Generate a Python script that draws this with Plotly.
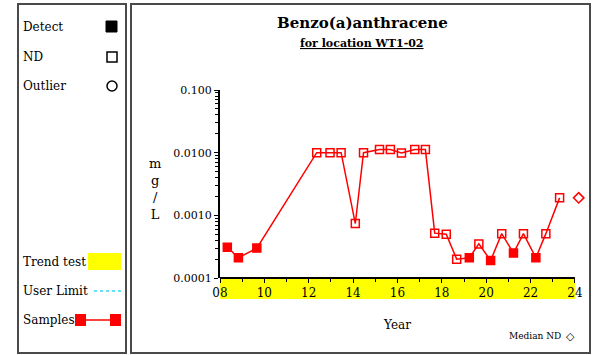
import plotly.graph_objects as go

# sample dates (decimal years), results (mg/L) and detect flags
years = [2008.33, 2008.83, 2009.66, 2012.36, 2012.96, 2013.46, 2014.10, 2014.47,
         2015.19, 2015.68, 2016.18, 2016.78, 2017.26, 2017.68, 2018.20, 2018.67,
         2019.24, 2019.67, 2020.20, 2020.70, 2021.23, 2021.68, 2022.24, 2022.69,
         2023.31]
values = [0.00031, 0.00021, 0.00030, 0.0100, 0.0100, 0.0100, 0.00074, 0.0100,
          0.0112, 0.0112, 0.0099, 0.0112, 0.0112, 0.00052, 0.00050, 0.00020,
          0.00021, 0.00035, 0.00019, 0.00051, 0.00025, 0.00051, 0.00021, 0.00051,
          0.0019]
detect = [1, 1, 1, 0, 0, 0, 0, 0,
          0, 0, 0, 0, 0, 0, 0, 0,
          1, 0, 1, 0, 1, 0, 1, 0,
          0]
median_nd_year = 2024.17
median_nd_value = 0.0019

x_start, x_end = 2008, 2024
x_ticks = list(range(2008, 2025, 2))
x_ticktext = ["%02d" % (y % 100) for y in x_ticks]
y_ticks = [0.0001, 0.001, 0.01, 0.1]
y_ticktext = ["0.0001", "0.0010", "0.0100", "0.100"]

W, H = 593, 355
L, R, T, B = 220, 7, 90, 77
pw, ph = W - L - R, H - T - B
FONT = "DejaVu Serif"


def px(x):
    return (x - L) / pw


def py(y):
    return (H - B - y) / ph


fig = go.Figure()

fig.add_trace(go.Scatter(
    x=years, y=values, mode="lines+markers",
    line=dict(color="#ff0000", width=1.5),
    marker=dict(
        symbol=["square" if d else "square-open" for d in detect],
        size=8, color="#ff0000", line=dict(color="#ff0000", width=1.5),
    ),
    showlegend=False, hoverinfo="x+y",
))
fig.add_trace(go.Scatter(
    x=[median_nd_year], y=[median_nd_value], mode="markers",
    marker=dict(symbol="diamond-open", size=8, color="#ff0000",
                line=dict(color="#ff0000", width=1.5)),
    showlegend=False, hoverinfo="x+y",
))

shapes = []
# panel frames
shapes.append(dict(type="rect", xref="paper", yref="paper",
                   x0=px(18), x1=px(126), y0=py(4), y1=py(353),
                   line=dict(color="#4a4a4a", width=2)))
shapes.append(dict(type="rect", xref="paper", yref="paper",
                   x0=px(131), x1=px(590), y0=py(4), y1=py(353),
                   line=dict(color="#4a4a4a", width=2)))
# trend test band under the x axis
shapes.append(dict(type="rect", xref="x", yref="paper", layer="below",
                   x0=x_start, x1=x_end, y0=0, y1=py(299),
                   fillcolor="#ffff00", line=dict(width=0)))
# x axis line, stopping at the last year
shapes.append(dict(type="line", xref="x", yref="paper", layer="above",
                   x0=x_start, x1=x_end, y0=0, y1=0,
                   line=dict(color="black", width=2)))

# legend symbols
shapes.append(dict(type="rect", xref="paper", yref="paper",
                   x0=px(106), x1=px(117), y0=py(21), y1=py(32),
                   fillcolor="black", line=dict(color="black", width=1)))
shapes.append(dict(type="rect", xref="paper", yref="paper",
                   x0=px(107), x1=px(117), y0=py(52), y1=py(62),
                   line=dict(color="black", width=1.5)))
shapes.append(dict(type="circle", xref="paper", yref="paper",
                   x0=px(107), x1=px(117), y0=py(81), y1=py(91),
                   line=dict(color="black", width=1.5)))
shapes.append(dict(type="rect", xref="paper", yref="paper",
                   x0=px(88), x1=px(121), y0=py(253), y1=py(270),
                   fillcolor="#ffff00", line=dict(width=0)))
shapes.append(dict(type="line", xref="paper", yref="paper",
                   x0=px(94), x1=px(121), y0=py(291), y1=py(291),
                   line=dict(color="#66e0ff", width=2, dash="dot")))
shapes.append(dict(type="line", xref="paper", yref="paper",
                   x0=px(80), x1=px(116), y0=py(320), y1=py(320),
                   line=dict(color="#ff0000", width=1.5)))
for cx in (80, 115):
    shapes.append(dict(type="rect", xref="paper", yref="paper",
                       x0=px(cx - 5), x1=px(cx + 6), y0=py(314), y1=py(326),
                       fillcolor="#ff0000", line=dict(width=0)))

annotations = []


def text(x, y, s, size=12, xanchor="left", bold=False):
    annotations.append(dict(
        xref="paper", yref="paper", x=px(x), y=py(y), text=s, showarrow=False,
        xanchor=xanchor, yanchor="middle",
        font=dict(family=FONT, size=size, color="black",
                  weight="bold" if bold else "normal"),
    ))


text(21, 27, "Detect")
text(21, 57, "ND")
text(21, 86, "Outlier")
text(21, 262, "Trend test")
text(21, 291, "User Limit")
text(21, 320, "Samples")
text(362, 23, "Benzo(a)anthracene", size=15, xanchor="center", bold=True)
text(362, 43, "<u>for location WT1-02</u>", size=11, xanchor="center", bold=True)
text(397, 325, "Year", size=12, xanchor="center")
text(563, 336, "Median ND", size=9, xanchor="right")
annotations.append(dict(xref="paper", yref="paper", x=px(155), y=py(189),
                        text="m<br>g<br>/<br>L", showarrow=False,
                        xanchor="center", yanchor="middle", align="center",
                        font=dict(family=FONT, size=13, color="black")))
annotations.append(dict(xref="paper", yref="paper", x=px(570), y=py(336),
                        text="◇", showarrow=False, xanchor="center",
                        yanchor="middle",
                        font=dict(family="DejaVu Sans", size=11, color="black",
                                  weight="bold")))

fig.update_layout(
    width=W, height=H, autosize=False,
    margin=dict(l=L, r=R, t=T, b=B),
    paper_bgcolor="white", plot_bgcolor="white",
    font=dict(family=FONT, size=12, color="black"),
    shapes=shapes, annotations=annotations,
    xaxis=dict(
        range=[x_start, x_end + 0.5], tickvals=x_ticks, ticktext=x_ticktext,
        ticks="outside", ticklen=4, tickcolor="black", showgrid=False,
        zeroline=False, showline=False,
        tickfont=dict(family=FONT, size=12),
        minor=dict(tickvals=list(range(2009, 2024, 2)), ticks="outside",
                   ticklen=3, tickcolor="black"),
    ),
    yaxis=dict(
        type="log", range=[-4, -1], tickvals=y_ticks, ticktext=y_ticktext,
        ticks="outside", ticklen=4, tickcolor="black", showgrid=False,
        zeroline=False, showline=True, linecolor="black", linewidth=2,
        tickfont=dict(family=FONT, size=11),
        minor=dict(tickvals=[m * 10 ** e for e in (-4, -3, -2) for m in range(2, 10)],
                   ticks="outside", ticklen=3, tickcolor="black"),
    ),
)

fig.write_html("out.html", config={"displayModeBar": False},
               post_script="document.body.style.margin='0';")
